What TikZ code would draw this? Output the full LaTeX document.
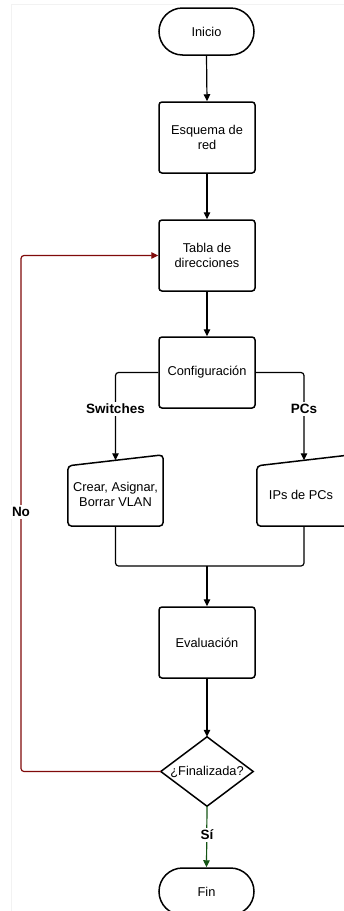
\documentclass[tikz,border=0pt]{standalone}
\usepackage{fontspec}
\setmainfont{Liberation Sans}
\usetikzlibrary{arrows.meta,calc}
\definecolor{loopred}{RGB}{128,10,10}
\definecolor{okgreen}{RGB}{20,85,20}
\begin{document}
\begin{tikzpicture}[x=1pt,y=-1pt,
  every node/.style={font=\fontsize{12.8}{15.4}\selectfont, align=center},
  box/.style={draw, line width=1.5pt, rounded corners=3pt, minimum width=96pt, minimum height=71pt, inner sep=0pt},
  term/.style={draw, line width=1.5pt, rounded corners=23.5pt, minimum width=95pt, minimum height=47pt, inner sep=0pt},
  frame/.style={inner sep=0pt, minimum height=71pt},
  outline/.style={line width=1.5pt, rounded corners=4pt},
  conn/.style={line width=1.2pt, -{Triangle[length=7pt,width=6.5pt]}},
  wire/.style={line width=1.2pt, rounded corners=3pt},
  lab/.style={font=\fontsize{13.5}{16}\selectfont\bfseries, fill=white, inner sep=2pt}
]
\useasboundingbox (0,0) rectangle (344,911);
\clip (0,0) rectangle (344,911);
\fill[white] (0,0) rectangle (344,911);
\draw[gray!10, line width=0.6pt] (11,930) -- (11,4) -- (360,4);

% nodes
\node[term] (ini) at (206.5,31.5) {Inicio};
\node[box] (esq) at (207,137.5) {Esquema de\\red};
\node[box] (tab) at (207,255.5) {Tabla de\\direcciones};
\node[box] (conf) at (207,372.5) {Configuración};

\node[frame, minimum width=95pt] (sw) at (115.5,490.5) {};
\draw[outline] (sw.south west) -- ($(sw.north west)+(0,11)$) -- (sw.north east) -- (sw.south east) -- cycle;
\node (swt) at (115.5,494.5) {Crear, Asignar,\\Borrar VLAN};
\coordinate (swtop) at ($(sw.north)+(0,5.5)$);

\node[frame, minimum width=94pt] (pc) at (304,490.5) {};
\draw[outline] (pc.south west) -- ($(pc.north west)+(0,11)$) -- (pc.north east) -- (pc.south east) -- cycle;
\node (pct) at (301,495) {IPs de PCs};
\coordinate (pctop) at ($(pc.north)+(0,5.5)$);

\node[box] (ev) at (207,642.5) {Evaluación};

\node[inner sep=0pt, minimum width=92pt, minimum height=69pt] (dec) at (207,771.5) {¿Finalizada?};
\draw[line width=1.5pt] (dec.north) -- (dec.east) -- (dec.south) -- (dec.west) -- cycle;

\node[term] (fin) at (206.5,891.5) {Fin};

% connectors
\draw[conn] (ini.south) -- (esq.north);
\draw[conn] (esq.south) -- (tab.north);
\draw[conn] (tab.south) -- (conf.north);
\draw[conn, rounded corners=3pt] (conf.west) -| (swtop);
\draw[conn, rounded corners=3pt] (conf.east) -| (pctop);
\node[lab] (swl) at (115.5,409) {Switches};
\node[lab] (pcl) at (304,409) {PCs};

\coordinate (mj) at (207,566);
\draw[wire] (sw.south) |- (mj) -| (pc.south);
\draw[conn] (mj) -- (ev.north);
\draw[conn] (ev.south) -- (dec.north);

\coordinate (lp) at (21,771.5);
\draw[conn, loopred, rounded corners=3pt] (dec.west) -- (lp) |- (tab.west);
\node[lab] (nol) at (21,512) {No};

\draw[conn, okgreen] (dec.south) -- (fin.north);
\node[lab] (sil) at (207,835) {Sí};
\end{tikzpicture}
\end{document}
